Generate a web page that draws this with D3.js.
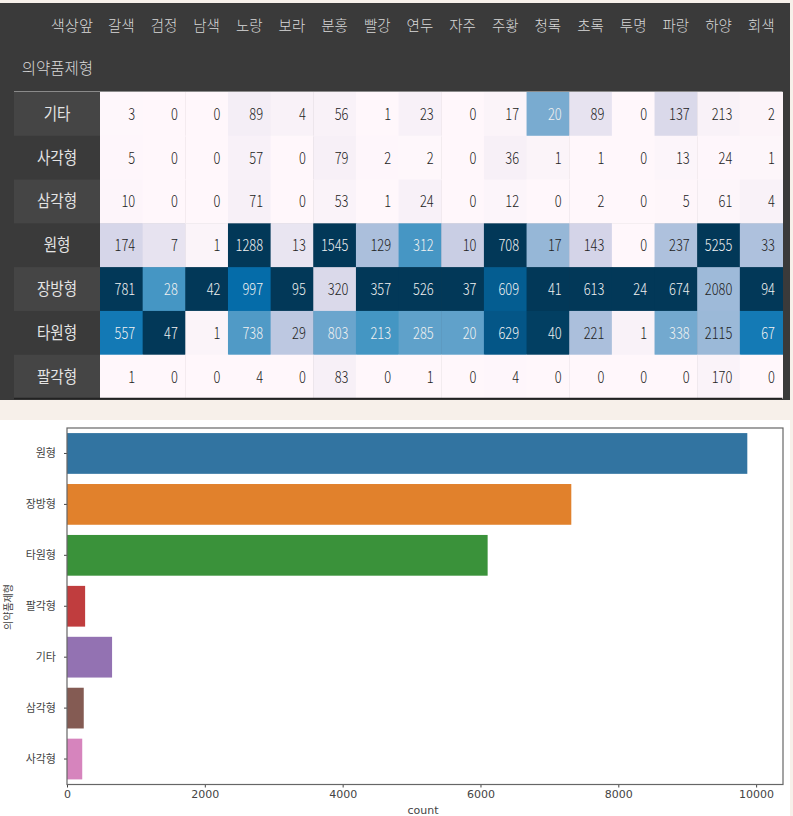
<!DOCTYPE html>
<html>
<head>
<meta charset="utf-8">
<script src="https://cdn.jsdelivr.net/npm/d3@7"></script>
<style>
body { margin: 0; background: #f7f0ea; }
svg { display: block; }
text { font-family: "Noto Sans CJK KR", "Noto Sans", sans-serif; }
</style>
</head>
<body>
<div id="svg"></div>
<script>
let colors = ['갈색','검정','남색','노랑','보라','분홍','빨강','연두','자주','주황','청록','초록','투명','파랑','하양','회색'];
let shapes = ['기타','사각형','삼각형','원형','장방형','타원형','팔각형'];
let counts = [
    [3,0,0,89,4,56,1,23,0,17,20,89,0,137,213,2],
    [5,0,0,57,0,79,2,2,0,36,1,1,0,13,24,1],
    [10,0,0,71,0,53,1,24,0,12,0,2,0,5,61,4],
    [174,7,1,1288,13,1545,129,312,10,708,17,143,0,237,5255,33],
    [781,28,42,997,95,320,357,526,37,609,41,613,24,674,2080,94],
    [557,47,1,738,29,803,213,285,20,629,40,221,1,338,2115,67],
    [1,0,0,4,0,83,0,1,0,4,0,0,0,0,170,0]
];

let barShapes = ['원형','장방형','타원형','팔각형','기타','삼각형','사각형'];
let barCounts = [9872,7318,6104,263,654,243,221];
let barColors = ['#3274a1','#e1812c','#3a923a','#c03d3e','#9372b2','#845b53','#d684bd'];
let xTicks = [0,2000,4000,6000,8000,10000];

function makeTable(svg) {
    svg.append('rect')
        .attr('x', 0).attr('y', 3)
        .attr('width', 790).attr('height', 397)
        .style('fill', '#3a3a3a');

    let xScale = d3.scaleBand().domain(colors).range([100, 782.5]);
    let yScale = d3.scaleBand().domain(shapes).range([92, 398.5]);

    // same colours as matplotlib PuBu, each column scaled on its own
    let pubu = d3.piecewise(d3.interpolateRgb, d3.schemePuBu[9]);

    function luminance(col) {
        let c = d3.rgb(col);
        let f = v => {
            v = v / 255;
            return v <= 0.03928 ? v / 12.92 : Math.pow((v + 0.055) / 1.055, 2.4);
        };
        return 0.2126 * f(c.r) + 0.7152 * f(c.g) + 0.0722 * f(c.b);
    }

    // row label stripes
    svg.selectAll('.stripe')
        .data(shapes.filter((d, i) => i % 2 == 0))
        .enter()
        .append('rect')
        .attr('x', 14)
        .attr('y', d => yScale(d))
        .attr('width', 86)
        .attr('height', yScale.bandwidth())
        .style('fill', '#454545');

    svg.selectAll('.rowLabel')
        .data(shapes)
        .enter()
        .append('text')
        .attr('transform', d => `translate(57, ${yScale(d) + yScale.bandwidth() / 2 + 6}) scale(0.88, 1)`)
        .attr('text-anchor', 'middle')
        .style('font-size', '16.5px')
        .style('fill', '#e4e4e4')
        .text(d => d);

    // header
    svg.selectAll('.colLabel')
        .data(colors)
        .enter()
        .append('text')
        .attr('x', d => xScale(d) + xScale.bandwidth() - 8)
        .attr('y', 31)
        .attr('text-anchor', 'end')
        .style('font-size', '14.5px')
        .style('font-weight', 300)
        .style('fill', '#d8d8d8')
        .text(d => d);

    svg.append('text')
        .attr('x', 93).attr('y', 31)
        .attr('text-anchor', 'end')
        .style('font-size', '15.3px')
        .style('font-weight', 300)
        .style('fill', '#d8d8d8')
        .text('색상앞');

    svg.append('text')
        .attr('x', 93).attr('y', 74)
        .attr('text-anchor', 'end')
        .style('font-size', '15.5px')
        .style('font-weight', 300)
        .style('fill', '#d8d8d8')
        .text('의약품제형');

    svg.append('line')
        .attr('x1', 14).attr('x2', 782.5)
        .attr('y1', 91.5).attr('y2', 91.5)
        .style('stroke', '#8a8a8a');

    let rows = svg.selectAll('.row')
        .data(counts)
        .enter()
        .append('g')
        .attr('transform', (d, i) => `translate(0, ${yScale(shapes[i])})`);

    let cells = rows.selectAll('.cell')
        .data(row => row.map((v, j) => ({
            v: v,
            color: colors[j],
            t: v / d3.max(counts, r => r[j])
        })))
        .enter()
        .append('g');

    cells.append('rect')
        .attr('x', d => xScale(d.color))
        .attr('width', xScale.bandwidth() + 0.5)
        .attr('height', yScale.bandwidth() + 0.5)
        .style('fill', d => pubu(d.t));

    // numbers are narrow in the original, squeeze them sideways
    cells.append('text')
        .attr('transform', d => `translate(${xScale(d.color) + xScale.bandwidth() - 7.5}, ${yScale.bandwidth() / 2 + 6}) scale(0.78, 1)`)
        .attr('text-anchor', 'end')
        .style('font-size', '16.5px')
        .style('font-weight', 300)
        .style('fill', d => luminance(pubu(d.t)) < 0.408 ? '#f1f1f1' : '#222')
        .text(d => d.v);

    svg.append('line')
        .attr('x1', 14).attr('x2', 782.5)
        .attr('y1', 398.5).attr('y2', 398.5)
        .style('stroke', '#222')
        .style('stroke-width', 1.5);
}

function makeBars(svg) {
    svg.append('rect')
        .attr('x', 0).attr('y', 420)
        .attr('width', 790).attr('height', 396)
        .style('fill', 'white');

    let xScale = d3.scaleLinear()
        .domain([0, 10390])
        .range([67, 783]);

    let yScale = d3.scaleBand()
        .domain(barShapes)
        .range([428, 784.5])
        .paddingInner(0.2)
        .paddingOuter(0.1);

    svg.selectAll('.bar')
        .data(barCounts)
        .enter()
        .append('rect')
        .attr('x', xScale(0))
        .attr('y', (d, i) => yScale(barShapes[i]))
        .attr('width', d => xScale(d) - xScale(0))
        .attr('height', yScale.bandwidth())
        .style('fill', (d, i) => barColors[i]);

    let xAxis = d3.axisBottom(xScale)
        .tickValues(xTicks)
        .tickSize(3)
        .tickPadding(3)
        .tickFormat(d3.format('d'));

    let xAxisGroup = svg.append('g')
        .attr('transform', 'translate(0, 784.5)')
        .call(xAxis);

    let yAxis = d3.axisLeft(yScale)
        .tickSize(3)
        .tickPadding(8);

    let yAxisGroup = svg.append('g')
        .attr('transform', 'translate(67, 0)')
        .call(yAxis);

    xAxisGroup.selectAll('.domain').remove();
    yAxisGroup.selectAll('.domain').remove();

    xAxisGroup.selectAll('text')
        .style('font-size', '11px')
        .style('font-family', '"DejaVu Sans"')
        .style('fill', '#444');
    yAxisGroup.selectAll('text')
        .style('font-size', '11px')
        .style('fill', '#444');
    svg.selectAll('.tick line').style('stroke', '#444');

    svg.append('rect')
        .attr('x', 67).attr('y', 428)
        .attr('width', 716).attr('height', 356.5)
        .style('fill', 'none')
        .style('stroke', '#666')
        .style('stroke-width', 1.2);

    svg.append('text')
        .attr('transform', 'translate(12, 607) rotate(-90)')
        .attr('text-anchor', 'middle')
        .style('font-size', '10px')
        .style('fill', '#444')
        .text('의약품제형');

    svg.append('text')
        .attr('x', 423).attr('y', 814)
        .attr('text-anchor', 'middle')
        .style('font-size', '11px')
        .style('font-family', '"DejaVu Sans"')
        .style('fill', '#444')
        .text('count');
}

window.onload = () => {
    let svg = d3.select('#svg')
        .append('svg')
        .attr('width', 793)
        .attr('height', 816);
    makeTable(svg);
    makeBars(svg);
}
</script>
</body>
</html>
